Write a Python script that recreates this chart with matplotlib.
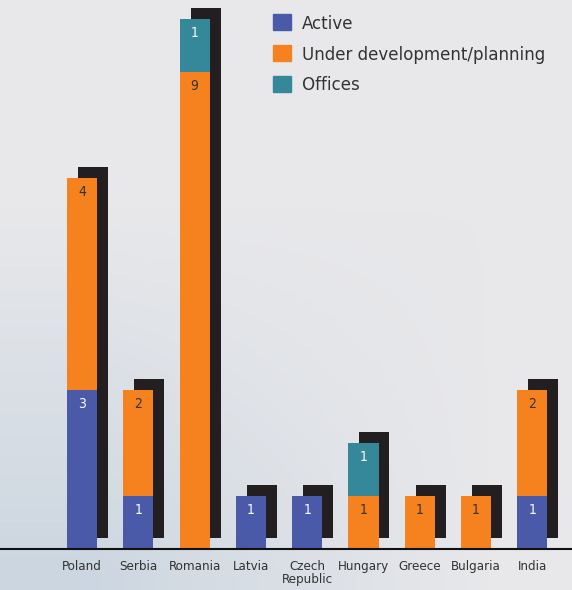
import numpy as np
import matplotlib.pyplot as plt
from matplotlib.patches import Patch

countries = ['Poland', 'Serbia', 'Romania', 'Latvia', 'Czech\nRepublic',
             'Hungary', 'Greece', 'Bulgaria', 'India']
active = [3, 1, 0, 1, 1, 0, 0, 0, 1]
under_dev = [4, 2, 9, 0, 0, 1, 1, 1, 2]
offices = [0, 0, 1, 0, 0, 1, 0, 0, 0]

c_active = '#4a5aa8'
c_under = '#f5821f'
c_office = '#35879a'
c_shadow = '#231f20'

plt.rcParams['font.family'] = ['DejaVu Sans']
plt.rcParams['font.stretch'] = 'condensed'

fig = plt.figure(figsize=(5.72, 5.90), dpi=100)

# background gradient
bg = fig.add_axes([0, 0, 1, 1])
yy, xx = np.mgrid[0:1:200j, 0:1:200j]
top = np.array([0.91, 0.91, 0.92])
low = np.array([0.80, 0.84, 0.88])
w = np.clip((yy - 0.35) * 1.6, 0, 1) * np.clip(1.2 - xx * 1.4, 0, 1)
img = top[None, None, :] * (1 - w[..., None]) + low[None, None, :] * w[..., None]
bg.imshow(img, aspect='auto', extent=[0, 1, 0, 1], origin='upper')
bg.axis('off')

W, H = 572, 590
ax = fig.add_axes([0, 41 / H, 1, 549 / H])
ax.patch.set_alpha(0)

x = np.arange(len(countries))
active = np.array(active)
under_dev = np.array(under_dev)
offices = np.array(offices)
total = active + under_dev + offices

bw = 0.533
dx, dy = 0.195, 0.2

ax.bar(x + dx, total, bw, bottom=dy, color=c_shadow, zorder=1)
ax.bar(x, active, bw, color=c_active, zorder=2)
ax.bar(x, under_dev, bw, bottom=active, color=c_under, zorder=2)
ax.bar(x, offices, bw, bottom=active + under_dev, color=c_office, zorder=2)

for i in x:
    segs = [(active[i], 0, 'white'),
            (under_dev[i], active[i], '#333333'),
            (offices[i], active[i] + under_dev[i], 'white')]
    for v, b, col in segs:
        if v > 0:
            ax.text(i, b + v - 0.27, str(v), ha='center', va='center',
                    fontsize=10, color=col, zorder=3)

ax.set_xlim(-82 / 56.3, -82 / 56.3 + W / 56.3)
ax.set_ylim(0, 549 / 53)
for s in ['top', 'right', 'left']:
    ax.spines[s].set_visible(False)
ax.spines['bottom'].set_color('#111111')
ax.spines['bottom'].set_linewidth(1.5)
ax.set_yticks([])
ax.set_xticks(x)
ax.set_xticklabels(countries, fontsize=9.5, color='#333333', linespacing=0.95)
ax.tick_params(axis='x', length=0, pad=8)

handles = [Patch(color=c_active, label='Active'),
           Patch(color=c_under, label='Under development/planning'),
           Patch(color=c_office, label='Offices')]
leg = fig.legend(handles=handles, loc='upper left', bbox_to_anchor=(266 / W, 1 - 7 / H),
                 frameon=False, fontsize=13.3, handlelength=0.95, handleheight=0.95,
                 handletextpad=0.6, labelspacing=0.68, borderaxespad=0)
for t in leg.get_texts():
    t.set_color('#333333')

fig.savefig('out.png', dpi=100)
